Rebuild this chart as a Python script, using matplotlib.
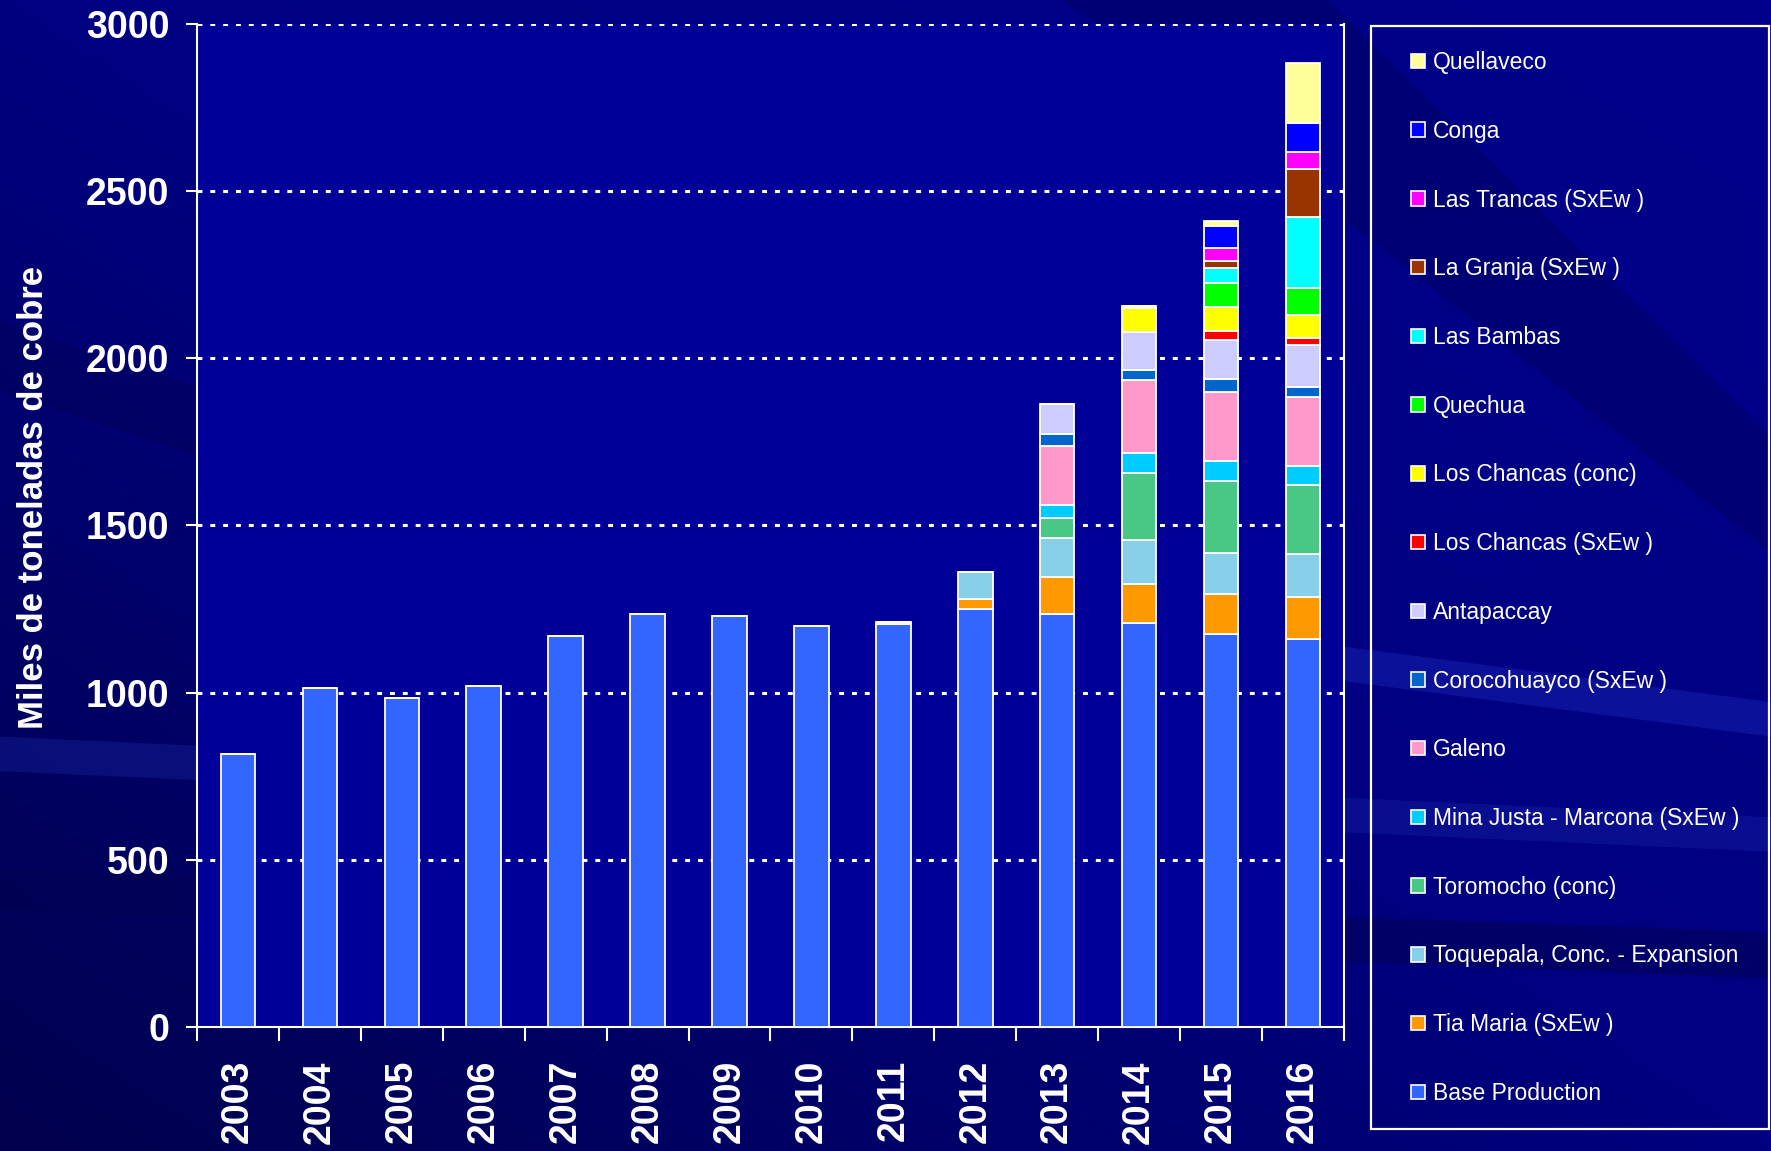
import matplotlib
matplotlib.use("Agg")
import matplotlib.pyplot as plt
from matplotlib.patches import Patch, Polygon, Rectangle
import numpy as np

# years on the x axis
years = ['2003', '2004', '2005', '2006', '2007', '2008', '2009',
         '2010', '2011', '2012', '2013', '2014', '2015', '2016']

# thousand tonnes of copper (bottom to top of stack)
base_production = [815, 1015, 984, 1021, 1170, 1234, 1228, 1200, 1204, 1249, 1234, 1207, 1175, 1161]
tia_maria       = [0, 0, 0, 0, 0, 0, 0, 0, 8, 30, 112, 118, 119, 124]
toquepala       = [0, 0, 0, 0, 0, 0, 0, 0, 0, 83, 117, 132, 125, 129]
toromocho       = [0, 0, 0, 0, 0, 0, 0, 0, 0, 0, 60, 199, 215, 206]
mina_justa      = [0, 0, 0, 0, 0, 0, 0, 0, 0, 0, 38, 60, 59, 58]
galeno          = [0, 0, 0, 0, 0, 0, 0, 0, 0, 0, 176, 219, 207, 207]
corocohuayco    = [0, 0, 0, 0, 0, 0, 0, 0, 0, 0, 36, 30, 37, 29]
antapaccay      = [0, 0, 0, 0, 0, 0, 0, 0, 0, 0, 91, 115, 118, 125]
chancas_sxew    = [0, 0, 0, 0, 0, 0, 0, 0, 0, 0, 0, 0, 28, 23]
chancas_conc    = [0, 0, 0, 0, 0, 0, 0, 0, 0, 0, 0, 70, 70, 67]
quechua         = [0, 0, 0, 0, 0, 0, 0, 0, 0, 0, 0, 6, 72, 81]
las_bambas      = [0, 0, 0, 0, 0, 0, 0, 0, 0, 0, 0, 0, 45, 214]
la_granja       = [0, 0, 0, 0, 0, 0, 0, 0, 0, 0, 0, 0, 22, 142]
las_trancas     = [0, 0, 0, 0, 0, 0, 0, 0, 0, 0, 0, 0, 38, 51]
conga           = [0, 0, 0, 0, 0, 0, 0, 0, 0, 0, 0, 0, 66, 87]
quellaveco      = [0, 0, 0, 0, 0, 0, 0, 0, 0, 0, 0, 0, 16, 181]

series = [
    ('Base Production', base_production, '#3366ff'),
    ('Tia Maria (SxEw )', tia_maria, '#ff9900'),
    ('Toquepala, Conc. - Expansion', toquepala, '#88d0ea'),
    ('Toromocho (conc)', toromocho, '#48c884'),
    ('Mina Justa - Marcona (SxEw )', mina_justa, '#00ccff'),
    ('Galeno', galeno, '#ff99cc'),
    ('Corocohuayco (SxEw )', corocohuayco, '#0066cc'),
    ('Antapaccay', antapaccay, '#ccccff'),
    ('Los Chancas (SxEw )', chancas_sxew, '#ff0000'),
    ('Los Chancas (conc)', chancas_conc, '#ffff00'),
    ('Quechua', quechua, '#00ff00'),
    ('Las Bambas', las_bambas, '#00ffff'),
    ('La Granja (SxEw )', la_granja, '#993300'),
    ('Las Trancas (SxEw )', las_trancas, '#ff00ff'),
    ('Conga', conga, '#0000ff'),
    ('Quellaveco', quellaveco, '#ffff99'),
]

font = ['Liberation Sans', 'DejaVu Sans']

fig = plt.figure(figsize=(17.71, 11.51), dpi=100)
fig.patch.set_facecolor('#000078')

# background: dark top-left to lighter bottom-right, with faint streaks
bg = fig.add_axes([0, 0, 1, 1], zorder=-5)
bg.set_axis_off()
gx, gy = np.meshgrid(np.linspace(0, 1, 200), np.linspace(0, 1, 200))
shade = 0.5 * gx + 0.5 * (1 - gy)
bg.imshow(shade, extent=(0, 1, 0, 1), origin='upper', aspect='auto',
          cmap=matplotlib.colors.LinearSegmentedColormap.from_list(
              'navy', ['#00004e', '#000080', '#00008c']))
streaks = [
    ([(0.0, 0.245), (0.0, 0.21), (1.0, 0.15), (1.0, 0.19)], '#000050', 0.5),
    ([(0.0, 0.36), (0.0, 0.33), (1.0, 0.26), (1.0, 0.29)], '#2030b0', 0.3),
    ([(0.6, 1.0), (0.75, 1.0), (1.0, 0.62), (1.0, 0.52)], '#000060', 0.45),
    ([(0.7, 0.45), (0.7, 0.42), (1.0, 0.36), (1.0, 0.39)], '#2a3ad0', 0.3),
    ([(0.0, 0.72), (0.0, 0.66), (0.12, 0.60), (0.12, 0.66)], '#000058', 0.45),
]
for pts, c, a in streaks:
    bg.add_patch(Polygon(pts, closed=True, facecolor=c, edgecolor='none', alpha=a))
bg.set_xlim(0, 1)
bg.set_ylim(0, 1)

ax = fig.add_axes([0.1112, 0.108, 0.6477, 0.8709], zorder=1)
ax.set_facecolor('#000099')

x = np.arange(len(years))
bottom = np.zeros(len(years))
handles = []
for label, vals, color in series:
    vals = np.array(vals, dtype=float)
    ax.bar(x, vals, width=0.42, bottom=bottom, color=color,
           edgecolor='white', linewidth=1.3, zorder=3)
    bottom += vals
    handles.append(Patch(facecolor=color, edgecolor='white', linewidth=1.2, label=label))

ax.set_xlim(-0.5, len(years) - 0.5)
ax.set_ylim(0, 3000)

# dotted grid lines
for yv in range(500, 3001, 500):
    ax.axhline(yv, color='white', linewidth=2.2, linestyle=(0, (1.6, 2.6)), zorder=1)

ax.set_yticks(range(0, 3001, 500))
ax.set_yticklabels([str(v) for v in range(0, 3001, 500)])
ax.set_xticks(np.arange(-0.5, len(years), 1.0))
ax.set_xticklabels([])
ax.set_xticks(x, minor=True)
ax.set_xticklabels(years, minor=True, rotation=90)

ax.tick_params(axis='y', colors='white', length=8, width=1.5, pad=12, labelsize=27)
ax.tick_params(axis='x', which='major', colors='white', length=10, width=1.5)
ax.tick_params(axis='x', which='minor', colors='white', length=0, pad=24, labelsize=27)
for lab in ax.get_yticklabels() + ax.get_xticklabels(minor=True):
    lab.set_family(font)
    lab.set_fontweight('bold')
    lab.set_color('white')

for side in ['left', 'bottom', 'right']:
    ax.spines[side].set_color('white')
    ax.spines[side].set_linewidth(1.5)
ax.spines['top'].set_visible(False)

fig.text(0.019, 0.568, 'Miles de toneladas de cobre', rotation=90, color='white',
         fontsize=25, fontweight='bold', family=font, ha='center', va='center')

# legend frame running to the right edge
fig.patches.append(Rectangle((0.7742, 0.0195), 0.2248, 0.958, transform=fig.transFigure,
                             facecolor='none', edgecolor='white', linewidth=1.6, zorder=2))

leg = fig.legend(handles[::-1], [h.get_label() for h in handles[::-1]],
                 loc='upper left', bbox_to_anchor=(0.7967, 0.9556),
                 frameon=False, borderaxespad=0, borderpad=0,
                 handlelength=0.6, handleheight=0.6, handletextpad=0.35,
                 labelspacing=1.995, prop={'family': font, 'size': 16.5})
for t in leg.get_texts():
    t.set_color('white')

fig.savefig('out.png', dpi=100, facecolor=fig.get_facecolor())
